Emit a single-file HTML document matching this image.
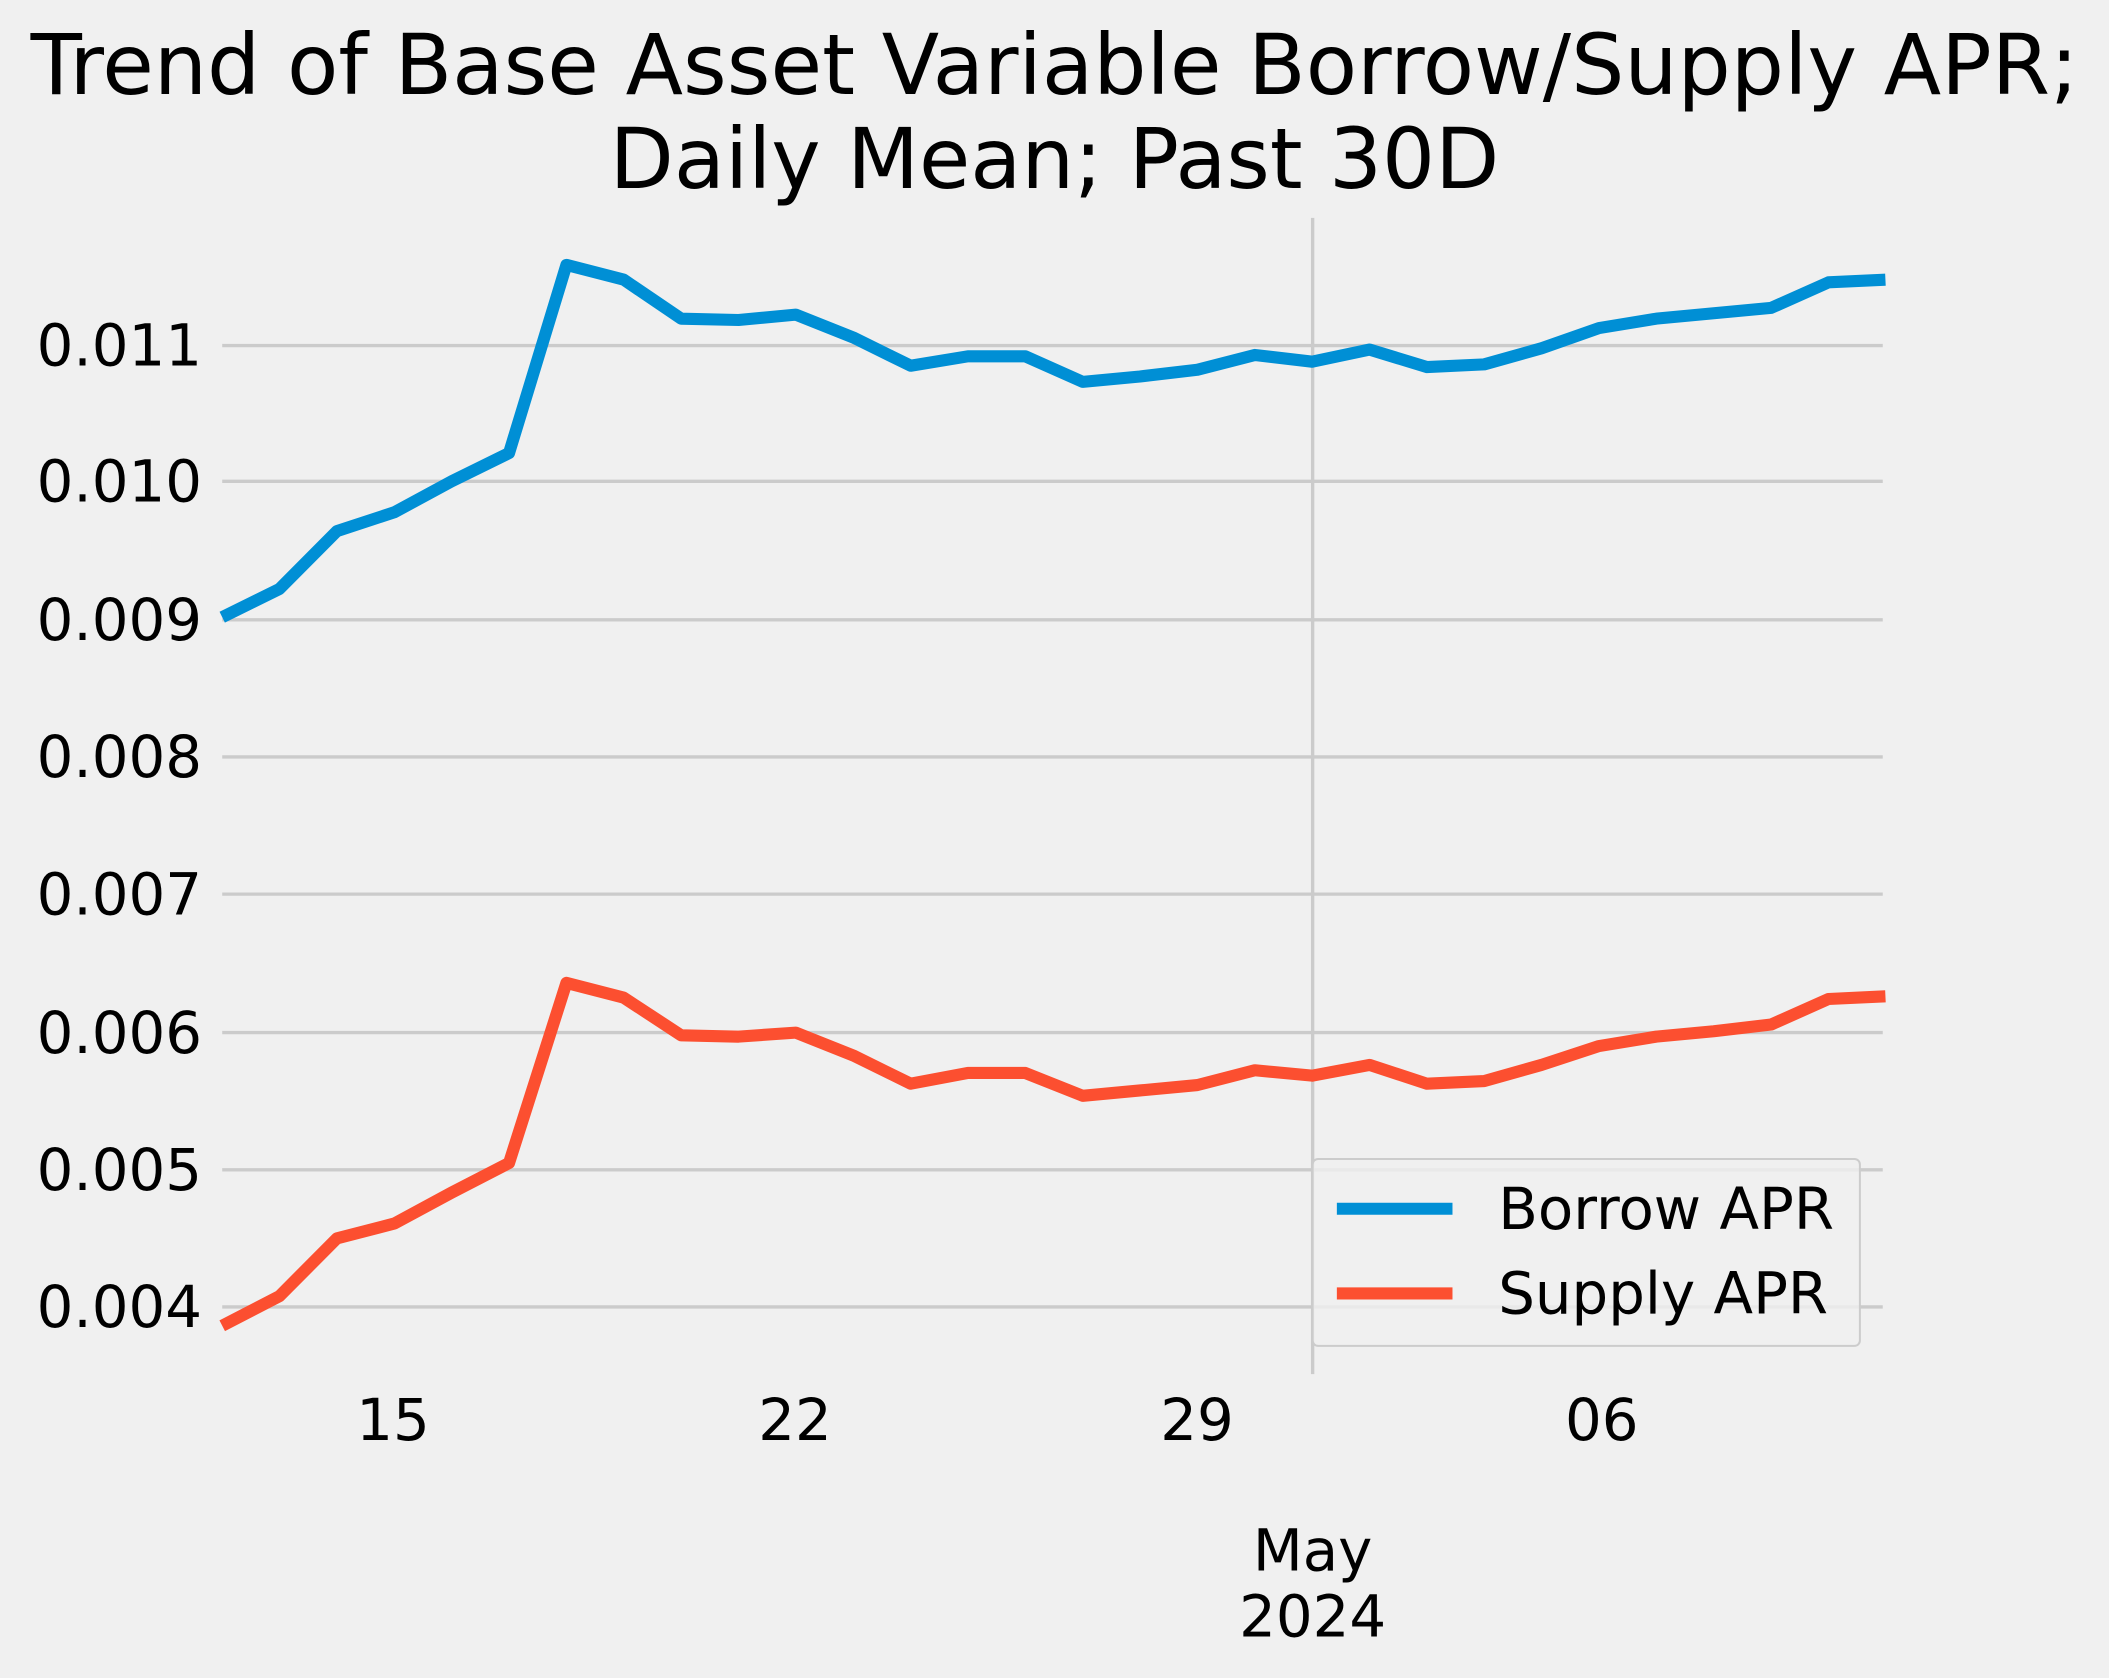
<!DOCTYPE html>
<html><head><meta charset="utf-8"><style>html,body{margin:0;padding:0;background:#f0f0f0}svg{display:block}</style></head><body>
<svg width="2109" height="1678" viewBox="0 0 1568 1248" xmlns="http://www.w3.org/2000/svg" font-family="'DejaVu Sans','Liberation Sans',sans-serif">
<rect width="1568" height="1248" fill="#f0f0f0"/>
<g stroke="#cbcbcb" stroke-width="2.5">
<line x1="165" x2="1400" y1="257" y2="257"/><line x1="165" x2="1400" y1="358" y2="358"/>
<line x1="165" x2="1400" y1="461" y2="461"/><line x1="165" x2="1400" y1="563" y2="563"/>
<line x1="165" x2="1400" y1="665" y2="665"/><line x1="165" x2="1400" y1="768" y2="768"/>
<line x1="165" x2="1400" y1="870" y2="870"/><line x1="165" x2="1400" y1="972" y2="972"/>
<line x1="976" x2="976" y1="162" y2="1022"/>
</g>
<g font-size="43" fill="#000" text-anchor="end">
<text x="150" y="272">0.011</text><text x="150" y="373">0.010</text><text x="150" y="476">0.009</text>
<text x="150" y="578">0.008</text><text x="150" y="680">0.007</text><text x="150" y="783">0.006</text>
<text x="150" y="885">0.005</text><text x="150" y="987">0.004</text>
</g>
<g font-size="43" fill="#000" text-anchor="middle">
<text x="292" y="1071">15</text><text x="591" y="1071">22</text><text x="890" y="1071">29</text><text x="1191" y="1071">06</text>
<text x="976" y="1168">May</text><text x="976" y="1217">2024</text>
</g>
<g font-size="62" fill="#000" text-anchor="middle">
<text x="784" y="70" textLength="1523" lengthAdjust="spacingAndGlyphs">Trend of Base Asset Variable Borrow/Supply APR;</text>
<text x="784" y="140">Daily Mean; Past 30D</text>
</g>
<polyline fill="none" stroke="#008fd5" stroke-width="9" stroke-linejoin="round" points="165,459 207.6,438 250.3,395 293,381 335.6,358 378.3,337 421,197 463.6,208 506.3,237 549,238 591.6,234 634.3,251 677,272 719.6,265 762.3,265 805,284 847.6,280 890.3,275 933,264 975.6,269 1018.3,260 1061,273 1103.6,271 1146.3,259 1189,244 1231.6,237 1274.3,233 1317,229 1359.6,210 1402,208"/>
<polyline fill="none" stroke="#fc4f30" stroke-width="9" stroke-linejoin="round" points="165,986 207.6,964 250.3,921 293,910 335.6,887 378.3,865 421,731 463.6,742 506.3,770 549,771 591.6,768 634.3,785 677,806 719.6,798 762.3,798 805,815 847.6,811 890.3,807 933,796 975.6,800 1018.3,792 1061,806 1103.6,804 1146.3,792 1189,778 1231.6,771 1274.3,767 1317,762 1359.6,743 1402,741"/>
<rect x="976" y="862" width="407" height="139" rx="4" fill="#f0f0f0" fill-opacity="0.8" stroke="#cccccc" stroke-width="1.5"/>
<line x1="994" x2="1080" y1="899" y2="899" stroke="#008fd5" stroke-width="9"/>
<line x1="994" x2="1080" y1="962" y2="962" stroke="#fc4f30" stroke-width="9"/>
<g font-size="43" fill="#000"><text x="1114" y="914">Borrow APR</text><text x="1114" y="977">Supply APR</text></g>
</svg>
</body></html>
